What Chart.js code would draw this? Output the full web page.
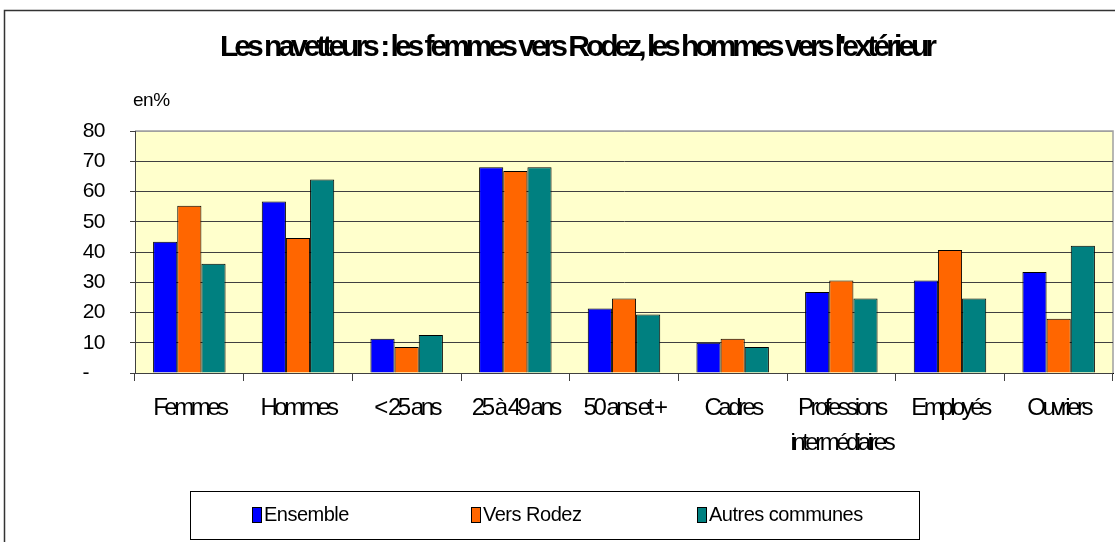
<!DOCTYPE html>
<html lang="fr">
<head>
<meta charset="utf-8">
<title>Les navetteurs</title>
<script src="https://cdn.jsdelivr.net/npm/chart.js@4/dist/chart.umd.min.js"></script>
<style>
  html, body { margin: 0; padding: 0; background: #fff; }
  .wrap { position: relative; width: 1115px; height: 542px; }
</style>
</head>
<body>
<div class="wrap"><canvas id="navChart"></canvas></div>
<script>
const categories = ['Femmes', 'Hommes', '< 25 ans', '25 à 49 ans', '50 ans et +', 'Cadres',
  ['Professions', 'intermédiaires'], 'Employés', 'Ouvriers'];
const ensemble = [43.4, 56.7, 11.3, 68.0, 21.3, 10.0, 26.8, 30.6, 33.4];
const versRodez = [55.3, 44.6, 8.6, 66.8, 24.6, 11.3, 30.6, 40.7, 17.9];
const autresCommunes = [36.1, 64.0, 12.6, 68.0, 19.3, 8.6, 24.6, 24.6, 42.1];
const seriesNames = ['Ensemble', 'Vers Rodez', 'Autres communes'];
const seriesColors = ['#0000ff', '#ff6600', '#008080'];
const yMax = 80;
const yStep = 10;

const FONT = "'Liberation Sans', Arial, sans-serif";

// letter spacing per box, the original text is very condensed
function spaced(box, sp, dx) {
  if (!box || box._spaced) return;
  const draw = box.draw.bind(box);
  box.draw = function (area) {
    const c = this.ctx;
    c.save();
    c.letterSpacing = sp;
    if (dx) c.translate(dx, 0);
    draw(area);
    c.restore();
  };
  box._spaced = true;
}

const decor = {
  id: 'decor',
  beforeLayout(chart) {
    spaced(chart.titleBlock, '-4px', 20);
    spaced(chart.scales.x, '-3.5px');
    spaced(chart.scales.y, '-0.5px');
  },
  beforeDraw(chart) {
    const { ctx, chartArea: a } = chart;
    ctx.save();
    ctx.fillStyle = '#fff';
    ctx.fillRect(0, 0, chart.width, chart.height);
    // outer frame
    ctx.strokeStyle = '#333';
    ctx.lineWidth = 1.5;
    ctx.beginPath();
    ctx.moveTo(4.5, chart.height);
    ctx.lineTo(4.5, 10.5);
    ctx.lineTo(chart.width, 10.5);
    ctx.stroke();
    // plot area
    ctx.fillStyle = '#ffffcc';
    ctx.fillRect(a.left, a.top, a.right - a.left, a.bottom - a.top);
    ctx.strokeStyle = '#a0a0a0';
    ctx.lineWidth = 1.5;
    ctx.beginPath();
    ctx.moveTo(a.left, a.top);
    ctx.lineTo(a.right, a.top);
    ctx.lineTo(a.right, a.bottom);
    ctx.stroke();
    ctx.restore();
  },
  afterDraw(chart) {
    const { ctx, chartArea: a } = chart;
    ctx.save();
    ctx.fillStyle = '#000';
    ctx.textBaseline = 'middle';
    ctx.font = '19px ' + FONT;
    ctx.letterSpacing = '-0.5px';
    ctx.fillText('en%', a.left - 2, 101);

    // legend
    ctx.strokeStyle = '#000';
    ctx.lineWidth = 1;
    ctx.strokeRect(190.5, 491.5, 729, 48);
    const itemX = [252, 471, 697];
    ctx.font = '20px ' + FONT;
    ctx.letterSpacing = '-0.5px';
    chart.data.datasets.forEach((ds, i) => {
      ctx.fillStyle = ds.backgroundColor;
      ctx.fillRect(itemX[i] + 0.5, 507.5, 9, 15);
      ctx.strokeRect(itemX[i] + 0.5, 507.5, 9, 15);
      ctx.fillStyle = '#000';
      ctx.fillText(ds.label, itemX[i] + 12, 515);
    });
    ctx.restore();
  }
};

const datasets = [ensemble, versRodez, autresCommunes].map((data, i) => ({
  label: seriesNames[i],
  data,
  backgroundColor: seriesColors[i],
  borderColor: '#000',
  borderWidth: 1,
  categoryPercentage: 0.667,
  barPercentage: 1.0,
}));

new Chart(document.getElementById('navChart'), {
  type: 'bar',
  data: { labels: categories, datasets },
  plugins: [decor],
  options: {
    responsive: true,
    maintainAspectRatio: false,
    animation: false,
    layout: { padding: { left: 0, right: 2, top: 0, bottom: 0 } },
    plugins: {
      legend: { display: false },
      tooltip: { enabled: false },
      title: {
        display: true,
        text: "Les navetteurs : les femmes vers Rodez, les hommes vers l'extérieur",
        color: '#000',
        font: { family: FONT, size: 30, weight: 'bold' },
        padding: { top: 30, bottom: 65 },
      },
    },
    scales: {
      x: {
        afterFit(scale) { scale.height = 169; },
        grid: { drawOnChartArea: false, tickLength: 8, color: '#404040' },
        border: { color: '#000' },
        ticks: {
          color: '#000',
          autoSkip: false,
          maxRotation: 0,
          padding: 10,
          font: { family: FONT, size: 24, lineHeight: 1.46 },
        },
      },
      y: {
        min: 0,
        max: yMax,
        afterFit(scale) { scale.width = 135; },
        grid: {
          tickLength: 5,
          color: (c) => (c.tick && c.tick.value === yMax ? '#a0a0a0' : '#404040'),
          tickColor: '#404040',
        },
        border: { color: '#404040' },
        ticks: {
          stepSize: yStep,
          color: '#000',
          padding: 25,
          font: { family: FONT, size: 21 },
          callback: (v) => (v === 0 ? '-   ' : v),
        },
      },
    },
  },
});
</script>
</body>
</html>
